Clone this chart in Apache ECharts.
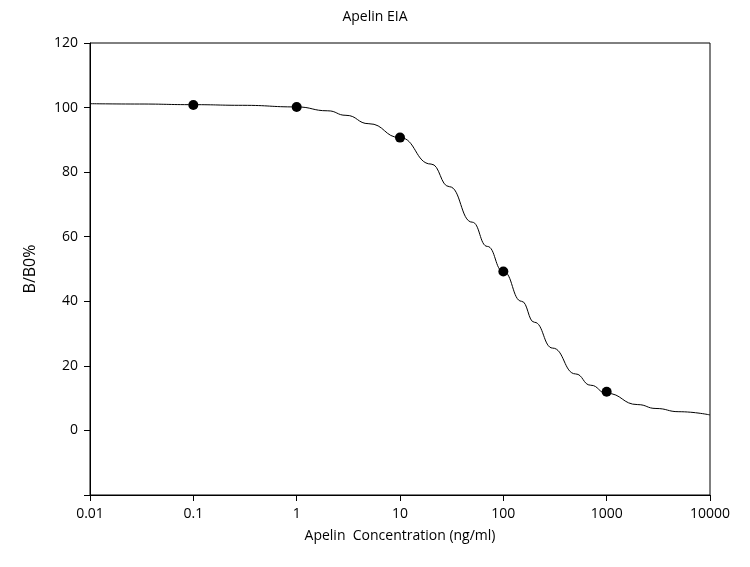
<!DOCTYPE html>
<html><head><meta charset="utf-8">
<script src="https://cdn.jsdelivr.net/npm/echarts@6/dist/echarts.min.js"></script>
<style>html,body{margin:0;background:#fff}#c{width:750px;height:567px}</style>
</head><body><div id="c"></div>
<script>
const pointX = [0.1, 1, 10, 100, 1000];
const pointY = [100.8, 100.2, 90.7, 49.2, 12.0];
const curveX = [0.01, 0.03, 0.1, 0.3, 1, 2, 3, 5, 10, 20, 30, 50, 70, 100, 150, 200, 300, 500, 700, 1000, 2000, 3000, 5000, 10000];
const curveY = [101.2, 101.1, 100.9, 100.7, 100.2, 99.0, 97.6, 95.0, 90.7, 82.5, 75.5, 64.5, 57.0, 49.2, 40.0, 33.5, 25.5, 17.5, 14.0, 11.5, 8.0, 6.8, 5.8, 4.8];
const chart = echarts.init(document.getElementById('c'));
const font = 'Open Sans';
chart.setOption({
  animation:false,
  title:{text:'Apelin EIA',left:'center',top:5,textStyle:{fontSize:14,fontWeight:'normal',color:'#000',fontFamily:font}},
  grid:{left:90,right:40,top:43,bottom:72,show:true,borderColor:'#000',borderWidth:1},
  xAxis:{type:'log',logBase:10,min:0.01,max:10000,
    name:'Apelin  Concentration (ng/ml)',nameLocation:'middle',nameGap:34,
    nameTextStyle:{fontSize:14,color:'#000',fontFamily:font},
    axisLine:{onZero:false,lineStyle:{color:'#000'}},axisTick:{length:6,lineStyle:{color:'#000'}},
    splitLine:{show:false},minorTick:{show:false},
    axisLabel:{fontSize:14,color:'#000',fontFamily:font,margin:12,formatter:v=>String(Number(v.toPrecision(6)))}},
  yAxis:{type:'value',min:-20,max:120,interval:20,
    name:'B/B0%',nameLocation:'middle',nameGap:52,
    nameTextStyle:{fontSize:16,color:'#000',fontFamily:font},
    axisLine:{show:true,lineStyle:{color:'#000'}},axisTick:{show:true,length:6,lineStyle:{color:'#000'}},
    splitLine:{show:false},
    axisLabel:{fontSize:14,color:'#000',fontFamily:font,margin:12,formatter:v=>v<0?'':String(v)}},
  series:[
    {type:'line',data:curveX.map((x,i)=>[x,curveY[i]]),smooth:0.5,smoothMonotone:'x',showSymbol:false,lineStyle:{color:'#000',width:1}},
    {type:'scatter',data:pointX.map((x,i)=>[x,pointY[i]]),symbolSize:10,itemStyle:{color:'#000',opacity:1}}
  ]
});
</script></body></html>
